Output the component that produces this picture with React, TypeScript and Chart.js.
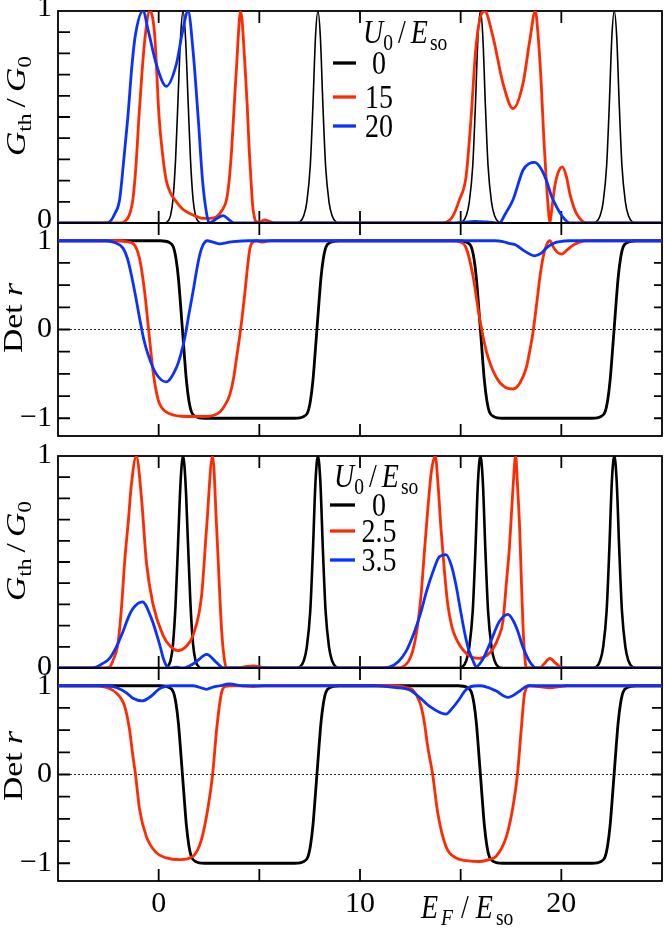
import React, { useEffect, useRef } from 'react';
import { Chart, registerables } from 'chart.js';

Chart.register(...registerables);

// ---------------- data ----------------
const xTickValues = [0, 5, 10, 15, 20];
const xLabelValues = [0, 10, 20];
const gTickValues = [0, 0.1, 0.2, 0.3, 0.4, 0.5, 0.6, 0.7, 0.8, 0.9, 1];
const gLabelValues = [0, 1];
const detTickValues = [-1, -0.75, -0.5, -0.25, 0, 0.25, 0.5, 0.75, 1];
const detLabelValues = [-1, 0, 1];

const legendTopLabels = ['0', '15', '20'];
const legendBottomLabels = ['0', '2.5', '3.5'];

// G_th/G_0, U0 = 0 (both G panels)
const gU0: [number, number][] = [
  [-5, 0], [0.26, 0], [0.41, 0.004], [0.59, 0.035], [0.71, 0.11], [0.84, 0.3], [0.96, 0.58], [1.09, 0.88], [1.21, 1],
  [1.33, 0.88], [1.46, 0.58], [1.58, 0.3], [1.71, 0.11], [1.83, 0.035], [2.01, 0.004], [2.16, 0],
  [6.81, 0], [7.01, 0.005], [7.21, 0.035], [7.36, 0.1], [7.53, 0.27], [7.66, 0.55], [7.79, 0.88], [7.91, 1],
  [8.03, 0.88], [8.16, 0.55], [8.29, 0.27], [8.46, 0.1], [8.61, 0.035], [8.81, 0.005], [9.01, 0],
  [14.88, 0], [15.08, 0.005], [15.28, 0.035], [15.43, 0.1], [15.6, 0.27], [15.73, 0.55], [15.86, 0.88], [15.98, 1],
  [16.1, 0.88], [16.23, 0.55], [16.36, 0.27], [16.53, 0.1], [16.68, 0.035], [16.88, 0.005], [17.08, 0],
  [21.53, 0], [21.73, 0.005], [21.93, 0.035], [22.08, 0.1], [22.25, 0.27], [22.38, 0.55], [22.51, 0.88], [22.63, 1],
  [22.75, 0.88], [22.88, 0.55], [23.01, 0.27], [23.18, 0.1], [23.33, 0.035], [23.53, 0.005], [23.73, 0], [25, 0],
];

// G_th/G_0, U0 = 15 (top)
const gTopU15: [number, number][] = [
  [-5, 0], [-1.9, 0], [-1.65, 0.01], [-1.45, 0.04], [-1.28, 0.11], [-1.12, 0.28], [-0.98, 0.5], [-0.82, 0.72],
  [-0.66, 0.89], [-0.45, 1], [-0.2, 0.89], [0.02, 0.5], [0.2, 0.32], [0.38, 0.2], [0.6, 0.14], [0.88, 0.1],
  [1.2, 0.065], [1.55, 0.045], [1.9, 0.03], [2.2, 0.022], [2.55, 0.022], [2.88, 0.03], [3.15, 0.06], [3.37, 0.11],
  [3.5, 0.2], [3.62, 0.34], [3.75, 0.55], [3.87, 0.74], [4.07, 1], [4.29, 0.74], [4.4, 0.55], [4.5, 0.34],
  [4.6, 0.18], [4.67, 0.08], [4.75, 0.03], [4.84, 0.005], [5.0, 0.005], [5.28, 0.015], [5.5, 0.008], [5.75, 0],
  [14.0, 0], [14.27, 0.003], [14.6, 0.03], [14.94, 0.11], [15.27, 0.22], [15.52, 0.5], [15.74, 0.81], [15.95, 0.96],
  [16.19, 1], [16.6, 0.88], [17.1, 0.66], [17.6, 0.54], [18.1, 0.66], [18.43, 0.86], [18.71, 1], [18.85, 0.88],
  [19.0, 0.66], [19.13, 0.4], [19.26, 0.19], [19.36, 0.06], [19.43, 0], [19.52, 0.06], [19.67, 0.17], [19.85, 0.24],
  [20.05, 0.265], [20.25, 0.22], [20.42, 0.14], [20.6, 0.08], [20.75, 0.045], [21.0, 0.012], [21.25, 0], [25, 0],
];

// G_th/G_0, U0 = 20 (top)
const gTopU20: [number, number][] = [
  [-5, 0], [-2.7, 0], [-2.44, 0.005], [-2.2, 0.04], [-1.94, 0.11], [-1.75, 0.28], [-1.53, 0.5], [-1.32, 0.75],
  [-1.15, 0.89], [-0.78, 1], [-0.5, 0.9], [-0.12, 0.75], [0.38, 0.645], [0.88, 0.75], [1.18, 0.9], [1.46, 1],
  [1.71, 0.81], [1.96, 0.5], [2.18, 0.2], [2.38, 0.045], [2.51, 0], [2.75, 0.012], [3.2, 0.035], [3.5, 0.015],
  [3.75, 0], [14.5, 0], [15.2, 0.004], [15.7, 0.008], [16.3, 0.005], [16.93, 0], [17.2, 0.04], [17.6, 0.11],
  [18.1, 0.25], [18.4, 0.28], [18.68, 0.286], [19.0, 0.255], [19.26, 0.2], [19.5, 0.13], [19.76, 0.077],
  [20.1, 0.025], [20.42, 0], [25, 0],
];

// G_th/G_0, U0 = 2.5 (bottom)
const gBotU25: [number, number][] = [
  [-5, 0], [-2.8, 0], [-2.44, 0.005], [-2.25, 0.04], [-2.03, 0.11], [-1.85, 0.28], [-1.69, 0.5], [-1.5, 0.7],
  [-1.36, 0.86], [-1.11, 1], [-0.86, 0.81], [-0.61, 0.5], [-0.28, 0.3], [0.21, 0.155], [0.6, 0.1], [0.96, 0.082],
  [1.35, 0.1], [1.71, 0.155], [2.13, 0.34], [2.38, 0.66], [2.68, 1], [2.88, 0.66], [3.12, 0.19], [3.25, 0.05],
  [3.37, 0], [3.9, 0], [4.3, 0.006], [4.7, 0.01], [5.1, 0.004], [5.4, 0],
  [11.8, 0], [12.11, 0.005], [12.4, 0.03], [12.61, 0.077], [12.83, 0.18], [13.03, 0.34], [13.2, 0.55], [13.36, 0.74],
  [13.55, 0.93], [13.74, 1], [13.88, 0.86], [14.02, 0.66], [14.2, 0.45], [14.36, 0.3], [14.55, 0.2], [14.77, 0.14],
  [15.27, 0.07], [15.94, 0.045], [16.3, 0.06], [16.6, 0.09], [16.9, 0.15], [17.1, 0.22], [17.27, 0.4], [17.43, 0.58],
  [17.6, 0.85], [17.73, 1], [17.83, 0.85], [17.93, 0.66], [18.02, 0.4], [18.1, 0.19], [18.18, 0.06], [18.26, 0],
  [18.93, 0], [19.15, 0.02], [19.43, 0.045], [19.75, 0.02], [20.09, 0], [25, 0],
];

// G_th/G_0, U0 = 3.5 (bottom)
const gBotU35: [number, number][] = [
  [-5, 0], [-3.4, 0], [-3.1, 0.004], [-2.8, 0.02], [-2.44, 0.045], [-2.1, 0.1], [-1.78, 0.17], [-1.5, 0.24],
  [-1.28, 0.28], [-0.81, 0.312], [-0.36, 0.234], [0.05, 0.11], [0.25, 0.04], [0.38, 0.012], [0.55, 0], [0.9, 0.004],
  [1.2, 0], [1.5, 0.008], [1.88, 0.03], [2.38, 0.064], [2.88, 0.025], [3.22, 0],
  [11.1, 0], [11.45, 0.004], [11.9, 0.03], [12.28, 0.077], [12.7, 0.17], [13.03, 0.265], [13.3, 0.36], [13.61, 0.45],
  [13.94, 0.525], [14.27, 0.535], [14.55, 0.48], [14.77, 0.39], [14.94, 0.3], [15.19, 0.17], [15.4, 0.085], [15.6, 0.038],
  [15.77, 0.005], [15.95, 0.02], [16.2, 0.06], [16.43, 0.11], [16.93, 0.22], [17.35, 0.253], [17.6, 0.225],
  [17.85, 0.17], [18.05, 0.11], [18.26, 0.061], [18.5, 0.02], [18.76, 0], [25, 0],
];

// Det r, U0 = 0 (both Det panels)
const detU0: [number, number][] = [
  [-5, 1], [0.08, 1], [0.53, 0.98], [0.73, 0.93], [0.86, 0.8], [0.98, 0.58], [1.08, 0.3], [1.18, 0],
  [1.28, -0.3], [1.38, -0.58], [1.5, -0.8], [1.63, -0.93], [1.83, -0.98], [2.28, -1],
  [6.76, -1], [7.21, -0.98], [7.41, -0.93], [7.54, -0.8], [7.66, -0.58], [7.76, -0.3], [7.86, 0],
  [7.96, 0.3], [8.06, 0.58], [8.18, 0.8], [8.31, 0.93], [8.51, 0.98], [8.96, 1],
  [14.88, 1], [15.33, 0.98], [15.53, 0.93], [15.66, 0.8], [15.78, 0.58], [15.88, 0.3], [15.98, 0],
  [16.08, -0.3], [16.18, -0.58], [16.3, -0.8], [16.43, -0.93], [16.63, -0.98], [17.08, -1],
  [21.52, -1], [21.97, -0.98], [22.17, -0.93], [22.3, -0.8], [22.42, -0.58], [22.52, -0.3], [22.62, 0],
  [22.72, 0.3], [22.82, 0.58], [22.94, 0.8], [23.07, 0.93], [23.27, 0.98], [23.72, 1], [25, 1],
];

// Det r, U0 = 15 (top)
const detTopU15: [number, number][] = [
  [-5, 1], [-1.9, 1], [-1.6, 0.99], [-1.28, 0.97], [-0.95, 0.8], [-0.7, 0.43], [-0.5, 0], [-0.28, -0.47],
  [-0.1, -0.72], [0.05, -0.84], [0.55, -0.95], [1.38, -0.98], [2.38, -0.98], [3.04, -0.93], [3.3, -0.85],
  [3.54, -0.73], [3.72, -0.55], [3.87, -0.32], [4.07, 0], [4.29, 0.43], [4.42, 0.72], [4.54, 0.92], [4.7, 0.99],
  [4.87, 1], [5.1, 0.985], [5.3, 0.99], [5.6, 1],
  [14.6, 1], [14.94, 0.99], [15.27, 0.92], [15.6, 0.62], [15.94, 0.13], [16.27, -0.24], [16.77, -0.54],
  [17.2, -0.65], [17.6, -0.67], [17.95, -0.6], [18.26, -0.43], [18.45, -0.22], [18.6, -0.02], [18.78, 0.3],
  [18.93, 0.58], [19.1, 0.82], [19.26, 0.95], [19.43, 1.0], [19.6, 0.93], [19.8, 0.87], [20.01, 0.85],
  [20.3, 0.9], [20.59, 0.95], [20.9, 0.985], [21.25, 1], [25, 1],
];

// Det r, U0 = 20 (top)
const detTopU20: [number, number][] = [
  [-5, 1], [-2.6, 1], [-2.2, 0.98], [-1.78, 0.92], [-1.55, 0.8], [-1.36, 0.62], [-1.15, 0.38], [-0.95, 0.13],
  [-0.75, -0.1], [-0.53, -0.28], [-0.12, -0.5], [0.38, -0.59], [0.88, -0.43], [1.1, -0.28], [1.3, -0.09],
  [1.5, 0.17], [1.71, 0.43], [1.88, 0.66], [2.04, 0.84], [2.2, 0.95], [2.41, 1.0], [2.7, 0.985], [3.04, 0.965],
  [3.4, 0.98], [3.7, 0.99], [4.5, 1],
  [16.7, 1], [17.1, 0.99], [17.4, 0.97], [17.76, 0.95], [18.2, 0.88], [18.68, 0.83], [19.0, 0.86], [19.26, 0.92],
  [19.6, 0.97], [19.93, 0.99], [20.4, 1], [25, 1],
];

// Det r, U0 = 2.5 (bottom)
const detBotU25: [number, number][] = [
  [-5, 1], [-3.2, 1], [-2.94, 0.995], [-2.5, 0.975], [-2.11, 0.92], [-1.69, 0.77], [-1.45, 0.51], [-1.28, 0.21],
  [-1.15, 0], [-0.95, -0.39], [-0.61, -0.7], [-0.12, -0.88], [0.38, -0.94], [1.05, -0.96], [1.71, -0.92],
  [2.13, -0.73], [2.46, -0.36], [2.68, 0], [2.88, 0.51], [3.12, 0.92], [3.3, 0.99], [3.54, 1.0], [4.0, 1.0],
  [4.7, 0.99], [5.3, 1],
  [11.6, 1], [11.95, 0.995], [12.3, 0.98], [12.61, 0.955], [13.03, 0.77], [13.2, 0.58], [13.36, 0.32],
  [13.61, 0], [13.86, -0.43], [14.27, -0.81], [14.77, -0.94], [15.3, -0.97], [15.94, -0.98], [16.4, -0.96],
  [16.77, -0.92], [17.27, -0.7], [17.6, -0.36], [17.82, 0], [18.01, 0.51], [18.18, 0.92], [18.43, 1], [18.9, 0.99],
  [19.43, 0.975], [19.9, 0.99], [20.3, 1], [25, 1],
];

// Det r, U0 = 3.5 (bottom)
const detBotU35: [number, number][] = [
  [-5, 1], [-2.6, 1], [-2.11, 0.98], [-1.6, 0.92], [-1.28, 0.86], [-0.81, 0.83], [-0.45, 0.87], [-0.28, 0.9],
  [0.0, 0.96], [0.21, 0.985], [0.71, 1], [1.7, 1], [2.0, 0.985], [2.38, 0.96], [2.7, 0.985], [3.04, 1],
  [3.5, 1.02], [4.2, 1],
  [10.8, 1], [11.12, 0.995], [11.8, 0.98], [12.45, 0.955], [13.0, 0.86], [13.44, 0.77], [14.27, 0.68],
  [14.6, 0.75], [14.94, 0.85], [15.2, 0.94], [15.44, 0.985], [15.94, 1], [16.3, 0.985], [16.77, 0.94],
  [17.35, 0.87], [17.93, 0.94], [18.2, 0.985], [18.43, 1], [25, 1],
];

// ---------------- styling / layout ----------------
const W = 664;
const H = 929;
const BLACK = '#000000';
const RED = '#ff2a00';
const BLUE = '#0a32ff';
const FONT = '"Liberation Serif", "Times New Roman", Times, serif';
const STRETCH = 1.2;
const X_AXIS_H = 48;

type Run = { t: string; it?: boolean; sub?: boolean; pre?: number; post?: number };

const G_TITLE: Run[] = [
  { t: 'G', it: true }, { t: 'th', sub: true, post: 5 }, { t: '/', post: 5 }, { t: 'G', it: true }, { t: '0', sub: true },
];
const DET_TITLE: Run[] = [{ t: 'Det', post: 7 }, { t: 'r', it: true }];
const U_TITLE: Run[] = [
  { t: 'U', it: true }, { t: '0', sub: true, post: 5 }, { t: '/', post: 5 }, { t: 'E', it: true, post: 2 }, { t: 'so', sub: true },
];
const E_TITLE: Run[] = [
  { t: 'E', it: true, post: 3 }, { t: 'F', it: true, sub: true, post: 8 }, { t: '/', post: 7 }, { t: 'E', it: true, post: 3 }, { t: 'so', sub: true },
];

function runFont(r: Run, size: number) {
  const s = r.sub ? size * 0.7 : size;
  return `${r.it ? 'italic ' : ''}${s}px ${FONT}`;
}

function runsWidth(ctx: CanvasRenderingContext2D, runs: Run[], size: number) {
  let w = 0;
  for (const r of runs) {
    ctx.font = runFont(r, size);
    w += (r.pre || 0) + ctx.measureText(r.t).width + (r.post || 0);
  }
  return w;
}

function drawRuns(ctx: CanvasRenderingContext2D, runs: Run[], x: number, y: number, size: number, rotate: boolean, align: string) {
  ctx.save();
  ctx.translate(x, y);
  ctx.scale(1, STRETCH);
  if (rotate) ctx.rotate(-Math.PI / 2);
  ctx.fillStyle = '#000';
  ctx.textBaseline = 'alphabetic';
  ctx.textAlign = 'left';
  let cx = align === 'center' ? -runsWidth(ctx, runs, size) / 2 : 0;
  for (const r of runs) {
    ctx.font = runFont(r, size);
    cx += r.pre || 0;
    ctx.fillText(r.t, cx, r.sub ? size * 0.2 : 0);
    cx += ctx.measureText(r.t).width + (r.post || 0);
  }
  ctx.restore();
}

type Series = { data: [number, number][]; color: string; width: number; order: number };
type Legend = { titleX: number; titleY: number; lineX1: number; lineX2: number; textCX: number; lineYs: number[]; labels: string[]; colors: string[] };
type Panel = {
  top: number; bottom: number; kind: 'g' | 'det'; showX: boolean; series: Series[];
  yTitle: Run[]; yTitleX: number; yTitleY: number; legend?: Legend; xTitle?: boolean; rightTicks: number; labelOffset: number;
};

const panels: Panel[] = [
  {
    top: 11, bottom: 223, kind: 'g', showX: false, rightTicks: 0, labelOffset: -3,
    series: [
      { data: gU0, color: BLACK, width: 1.6, order: 3 },
      { data: gTopU15, color: RED, width: 2.8, order: 2 },
      { data: gTopU20, color: BLUE, width: 2.8, order: 1 },
    ],
    yTitle: G_TITLE, yTitleX: 25, yTitleY: 106,
    legend: { titleX: 363, titleY: 43, lineX1: 333, lineX2: 356, textCX: 379, lineYs: [63, 97, 126], labels: legendTopLabels, colors: [BLACK, RED, BLUE] },
  },
  {
    top: 223, bottom: 436, kind: 'det', showX: false, rightTicks: 8, labelOffset: 0,
    series: [
      { data: detU0, color: BLACK, width: 2.8, order: 3 },
      { data: detTopU15, color: RED, width: 2.8, order: 2 },
      { data: detTopU20, color: BLUE, width: 2.8, order: 1 },
    ],
    yTitle: DET_TITLE, yTitleX: 22, yTitleY: 318,
  },
  {
    top: 456, bottom: 668, kind: 'g', showX: false, rightTicks: 0, labelOffset: -1,
    series: [
      { data: gU0, color: BLACK, width: 2.6, order: 3 },
      { data: gBotU25, color: RED, width: 2.8, order: 2 },
      { data: gBotU35, color: BLUE, width: 2.8, order: 1 },
    ],
    yTitle: G_TITLE, yTitleX: 25, yTitleY: 551,
    legend: { titleX: 334, titleY: 487, lineX1: 330, lineX2: 355, textCX: 379, lineYs: [505, 531, 560], labels: legendBottomLabels, colors: [BLACK, RED, BLUE] },
  },
  {
    top: 668, bottom: 881, kind: 'det', showX: true, rightTicks: 10, labelOffset: 0,
    series: [
      { data: detU0, color: BLACK, width: 2.8, order: 3 },
      { data: detBotU25, color: RED, width: 2.8, order: 2 },
      { data: detBotU35, color: BLUE, width: 2.8, order: 1 },
    ],
    yTitle: DET_TITLE, yTitleX: 22, yTitleY: 766, xTitle: true,
  },
];

const decorPlugin = {
  id: 'panelDecor',
  beforeDatasetsDraw(chart: any, _args: any, opts: any) {
    const { ctx, chartArea: a, scales } = chart;
    const xs = scales.x;
    const ys = scales.y;
    ctx.save();
    if (opts.kind === 'det') {
      const y0 = ys.getPixelForValue(0);
      ctx.strokeStyle = '#222';
      ctx.lineWidth = 1;
      ctx.setLineDash([2, 2]);
      ctx.beginPath();
      ctx.moveTo(a.left, y0);
      ctx.lineTo(a.right, y0);
      ctx.stroke();
      ctx.setLineDash([]);
    }
    ctx.strokeStyle = '#000';
    ctx.lineWidth = 1.8;
    ctx.strokeRect(a.left, a.top, a.right - a.left, a.bottom - a.top);
    ctx.beginPath();
    for (const t of xs.ticks) {
      const px = xs.getPixelForValue(t.value);
      if (px <= a.left + 1 || px >= a.right - 1) continue;
      ctx.moveTo(px, a.bottom);
      ctx.lineTo(px, a.bottom - 12);
      ctx.moveTo(px, a.top);
      ctx.lineTo(px, a.top + 12);
    }
    for (const t of ys.ticks) {
      const py = ys.getPixelForValue(t.value);
      if (py <= a.top + 1 || py >= a.bottom - 1) continue;
      ctx.moveTo(a.left, py);
      ctx.lineTo(a.left + 12, py);
      if (opts.rightTicks) {
        ctx.moveTo(a.right, py);
        ctx.lineTo(a.right - opts.rightTicks, py);
      }
    }
    ctx.stroke();
    ctx.restore();
  },
  afterDraw(chart: any, _args: any, opts: any) {
    const ctx = chart.ctx as CanvasRenderingContext2D;
    const p: Panel = opts.panel;
    drawRuns(ctx, p.yTitle, p.yTitleX, p.yTitleY, 28, true, 'center');
    if (p.legend) {
      const L = p.legend;
      drawRuns(ctx, U_TITLE, L.titleX, L.titleY, 28, false, 'left');
      L.labels.forEach((lab, i) => {
        ctx.save();
        ctx.strokeStyle = L.colors[i];
        ctx.lineWidth = 3.3;
        ctx.beginPath();
        ctx.moveTo(L.lineX1, L.lineYs[i]);
        ctx.lineTo(L.lineX2, L.lineYs[i]);
        ctx.stroke();
        ctx.restore();
        drawRuns(ctx, [{ t: lab }], L.textCX, L.lineYs[i] + 11, 28, false, 'center');
      });
    }
    if (p.xTitle) {
      drawRuns(ctx, E_TITLE, 421, 918, 28, false, 'left');
    }
  },
};

function fmtMinus(v: number) {
  return v < 0 ? '\u2212' + String(-v) : String(v);
}

function makeConfig(p: Panel): any {
  const isG = p.kind === 'g';
  const yTicks = isG ? gTickValues : detTickValues;
  const yLabels = isG ? gLabelValues : detLabelValues;
  const xH = p.showX ? X_AXIS_H : 0;
  return {
    type: 'line',
    data: {
      datasets: p.series.map((s) => ({
        data: s.data.map(([x, y]) => ({ x, y })),
        borderColor: s.color,
        borderWidth: s.width,
        pointRadius: 0,
        fill: false,
        cubicInterpolationMode: 'monotone',
        order: s.order,
      })),
    },
    options: {
      responsive: false,
      animation: false,
      devicePixelRatio: 1,
      events: [],
      layout: { padding: { left: 0, right: 2, top: p.top, bottom: H - p.bottom - xH } },
      plugins: {
        legend: { display: false },
        tooltip: { enabled: false },
        panelDecor: { kind: p.kind, rightTicks: p.rightTicks, panel: p },
      },
      scales: {
        x: {
          type: 'linear',
          min: -5,
          max: 25,
          grid: { display: false, drawTicks: false },
          border: { display: false },
          afterBuildTicks: (s: any) => { s.ticks = xTickValues.map((v) => ({ value: v })); },
          afterFit: (s: any) => { s.height = xH; s.paddingLeft = 0; s.paddingRight = 0; },
          ticks: {
            display: p.showX,
            autoSkip: false,
            maxRotation: 0,
            padding: 5,
            color: '#000',
            font: { family: FONT, size: 30 },
            callback: (v: any) => (xLabelValues.includes(Number(v)) ? String(v) : ''),
          },
        },
        y: {
          type: 'linear',
          min: isG ? 0 : -1.2,
          max: isG ? 1 : 1.2,
          grid: { display: false, drawTicks: false },
          border: { display: false },
          afterBuildTicks: (s: any) => { s.ticks = yTicks.map((v) => ({ value: v })); },
          afterFit: (s: any) => { s.width = 58; s.paddingTop = 0; s.paddingBottom = 0; },
          ticks: {
            autoSkip: false,
            padding: 6,
            labelOffset: p.labelOffset,
            color: '#000',
            font: { family: FONT, size: 30 },
            callback: (v: any) => {
              const n = Number(v);
              return yLabels.some((l) => Math.abs(l - n) < 1e-6) ? fmtMinus(Math.round(n)) : '';
            },
          },
        },
      },
    },
    plugins: [decorPlugin],
  };
}

export default function App() {
  const canvases = useRef<(HTMLCanvasElement | null)[]>([]);
  useEffect(() => {
    document.body.style.margin = '0';
    let alive = true;
    const charts = panels.map((p, i) => new Chart(canvases.current[i] as HTMLCanvasElement, makeConfig(p)));
    const fontSpecs = ['30px "Liberation Serif"', 'italic 30px "Liberation Serif"'];
    const fontsApi: any = (document as any).fonts;
    if (fontsApi && fontsApi.load) {
      Promise.all(fontSpecs.map((f) => fontsApi.load(f)))
        .catch(() => null)
        .then(() => { if (alive) charts.forEach((c) => c.update()); });
    }
    return () => { alive = false; charts.forEach((c) => c.destroy()); };
  }, []);
  return (
    <div style={{ position: 'absolute', left: 0, top: 0, width: W, height: H, background: '#fff' }}>
      {panels.map((_, i) => (
        <canvas
          key={i}
          ref={(el) => { canvases.current[i] = el; }}
          width={W}
          height={H}
          style={{ position: 'absolute', left: 0, top: 0, width: W, height: H }}
        />
      ))}
    </div>
  );
}
